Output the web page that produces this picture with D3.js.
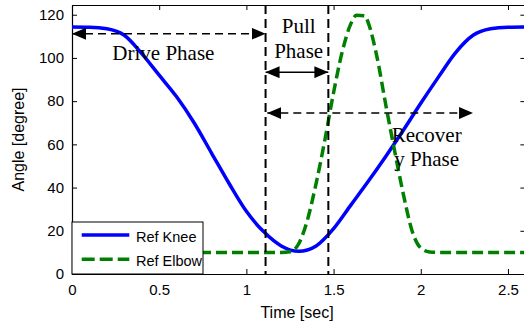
<!DOCTYPE html>
<html>
<head>
<meta charset="utf-8">
<script src="https://cdn.jsdelivr.net/npm/d3@7"></script>
<style>
  body { margin: 0; background: #fff; }
  svg { display: block; }
  .tick text { font-family: "Liberation Sans", Arial, sans-serif; font-size: 15px; fill: #000; }
</style>
</head>
<body>
<div id="chart"></div>
<script>
// time samples (sec) and joint angles (degree)
var kneeTime  = [0, 0.1, 0.2, 0.3, 0.4, 0.5, 0.6, 0.7, 0.8, 0.9, 1.0, 1.1, 1.2, 1.3, 1.4, 1.5, 1.6, 1.7, 1.8, 1.9, 2.0, 2.1, 2.2, 2.3, 2.4, 2.5, 2.6];
var kneeAngle = [114.3, 114.2, 113.5, 110.5, 102, 92, 82, 70, 56, 42, 29, 19.5, 13, 10.5, 13, 21, 32, 43, 54.5, 66.5, 79, 91, 102.5, 110.5, 113.5, 114.2, 114.3];

var elbowTime  = [0, 1.2, 1.25, 1.3, 1.35, 1.4, 1.45, 1.5, 1.55, 1.6, 1.63, 1.68, 1.7, 1.75, 1.8, 1.85, 1.9, 1.95, 2.0, 2.05, 2.1, 2.6];
var elbowAngle = [10, 10, 10.3, 14, 25, 42, 62, 84, 103, 116, 119.7, 119.5, 116, 100, 78, 57, 37, 20, 12, 10.2, 10, 10];

var xTicks = [0, 0.5, 1, 1.5, 2, 2.5];
var yTicks = [0, 20, 40, 60, 80, 100, 120];

// phase boundaries and annotation arrows (data units)
var phaseLines = [1.11, 1.47];
var arrows = [
  {x1: 0, x2: 1.11, y: 111.2, dashed: true},
  {x1: 1.11, x2: 1.47, y: 93.4, dashed: false},
  {x1: 1.12, x2: 2.30, y: 74.5, dashed: true}
];
var labels = [
  {x: 0.524, y: 99, lines: ["Drive Phase"]},
  {x: 1.30, y: 111.5, lines: ["Pull", "Phase"]},
  {x: 2.034, y: 61.3, lines: ["Recover", "y Phase"]}
];
var legendItems = ["Ref Knee", "Ref Elbow"];

var width = 524, height = 323;
var svg = d3.select('#chart').append('svg')
            .attr('width', width).attr('height', height);

var x = d3.scaleLinear().domain([0, 2.6]).range([72, 525.4]);
var y = d3.scaleLinear().domain([0, 124.5]).range([274, 5]);

var defs = svg.append('defs');
defs.append('marker').attr('id', 'head')
    .attr('markerUnits', 'userSpaceOnUse')
    .attr('markerWidth', 14).attr('markerHeight', 12)
    .attr('refX', 14).attr('refY', 6)
    .attr('orient', 'auto-start-reverse')
  .append('path').attr('d', 'M0,0L14,6L0,12Z').attr('fill', '#000');

// axes, ticks pointing inward on all four sides
svg.append('g').attr('transform', 'translate(0,' + y(0) + ')')
   .call(d3.axisBottom(x).tickValues(xTicks).tickFormat(d3.format('')).tickSizeInner(-5).tickSizeOuter(0).tickPadding(10));
svg.append('g').attr('transform', 'translate(' + x(0) + ',0)')
   .call(d3.axisLeft(y).tickValues(yTicks).tickSizeInner(-5).tickSizeOuter(0).tickPadding(8));
svg.append('g').attr('transform', 'translate(0,' + y(124.5) + ')')
   .call(d3.axisTop(x).tickValues(xTicks).tickFormat('').tickSizeInner(-5).tickSizeOuter(0));
svg.append('g').attr('transform', 'translate(' + x(2.6) + ',0)')
   .call(d3.axisRight(y).tickValues(yTicks).tickFormat('').tickSizeInner(-5).tickSizeOuter(0));
svg.selectAll('.domain').attr('stroke', '#000').attr('stroke-width', 1.2);
svg.selectAll('.tick line').attr('stroke', '#000');

svg.append('text').attr('x', 297).attr('y', 318)
   .attr('text-anchor', 'middle')
   .style('font-family', '"Liberation Sans", Arial, sans-serif').style('font-size', '16px')
   .text('Time [sec]');
svg.append('text').attr('transform', 'translate(23.5,' + ((y(0) + y(124.5)) / 2) + ') rotate(-90)')
   .attr('text-anchor', 'middle')
   .style('font-family', '"Liberation Sans", Arial, sans-serif').style('font-size', '16px')
   .text('Angle [degree]');

// curves
var line = d3.line().x(function(d){ return x(d[0]); }).y(function(d){ return y(d[1]); }).curve(d3.curveMonotoneX);
var knee = kneeTime.map(function(t, i){ return [t, kneeAngle[i]]; });
var elbow = elbowTime.map(function(t, i){ return [t, elbowAngle[i]]; });

svg.append('path').datum(knee).attr('d', line)
   .attr('fill', 'none').attr('stroke', '#0000ff').attr('stroke-width', 3.5);
svg.append('path').datum(elbow).attr('d', line)
   .attr('fill', 'none').attr('stroke', '#008000').attr('stroke-width', 3.5)
   .attr('stroke-dasharray', '11,5');

// phase boundaries
svg.selectAll('.phase').data(phaseLines).enter().append('line').classed('phase', true)
   .attr('x1', function(d){ return x(d); }).attr('x2', function(d){ return x(d); })
   .attr('y1', y(124.5)).attr('y2', y(0))
   .attr('stroke', '#000').attr('stroke-width', 2).attr('stroke-dasharray', '9,5');

// arrows
svg.selectAll('.arrow').data(arrows).enter().append('line').classed('arrow', true)
   .attr('x1', function(d){ return x(d.x1); }).attr('x2', function(d){ return x(d.x2); })
   .attr('y1', function(d){ return y(d.y); }).attr('y2', function(d){ return y(d.y); })
   .attr('stroke', '#000').attr('stroke-width', 1.6)
   .attr('stroke-dasharray', function(d){ return d.dashed ? '8,5' : null; })
   .attr('marker-start', 'url(#head)').attr('marker-end', 'url(#head)');

// phase labels
var lab = svg.selectAll('.lab').data(labels).enter().append('text').classed('lab', true)
   .attr('text-anchor', 'middle')
   .style('font-family', '"Liberation Serif", "Times New Roman", serif').style('font-size', '21px')
   .attr('y', function(d){ return y(d.y); });
lab.selectAll('tspan').data(function(d){ return d.lines.map(function(s){ return {s: s, x: d.x}; }); })
   .enter().append('tspan')
   .attr('x', function(d){ return x(d.x); })
   .attr('dy', function(d, i){ return i ? 24.5 : 0; })
   .text(function(d){ return d.s; });

// legend
var leg = svg.append('g').attr('transform', 'translate(72,222)');
leg.append('rect').attr('width', 131).attr('height', 52)
   .attr('fill', '#fff').attr('stroke', '#000').attr('stroke-width', 1);
var li = leg.selectAll('.li').data(legendItems).enter().append('g').classed('li', true)
   .attr('transform', function(d, i){ return 'translate(0,' + (13 + i * 24.3) + ')'; });
li.append('line').attr('x1', 9.7).attr('x2', 57.3)
  .attr('stroke', function(d, i){ return i ? '#008000' : '#0000ff'; })
  .attr('stroke-width', 3.5)
  .attr('stroke-dasharray', function(d, i){ return i ? '13,5' : null; });
li.append('text').attr('x', 64).attr('y', 6.5)
  .style('font-family', '"Liberation Sans", Arial, sans-serif').style('font-size', '14.5px')
  .text(function(d){ return d; });
</script>
</body>
</html>
